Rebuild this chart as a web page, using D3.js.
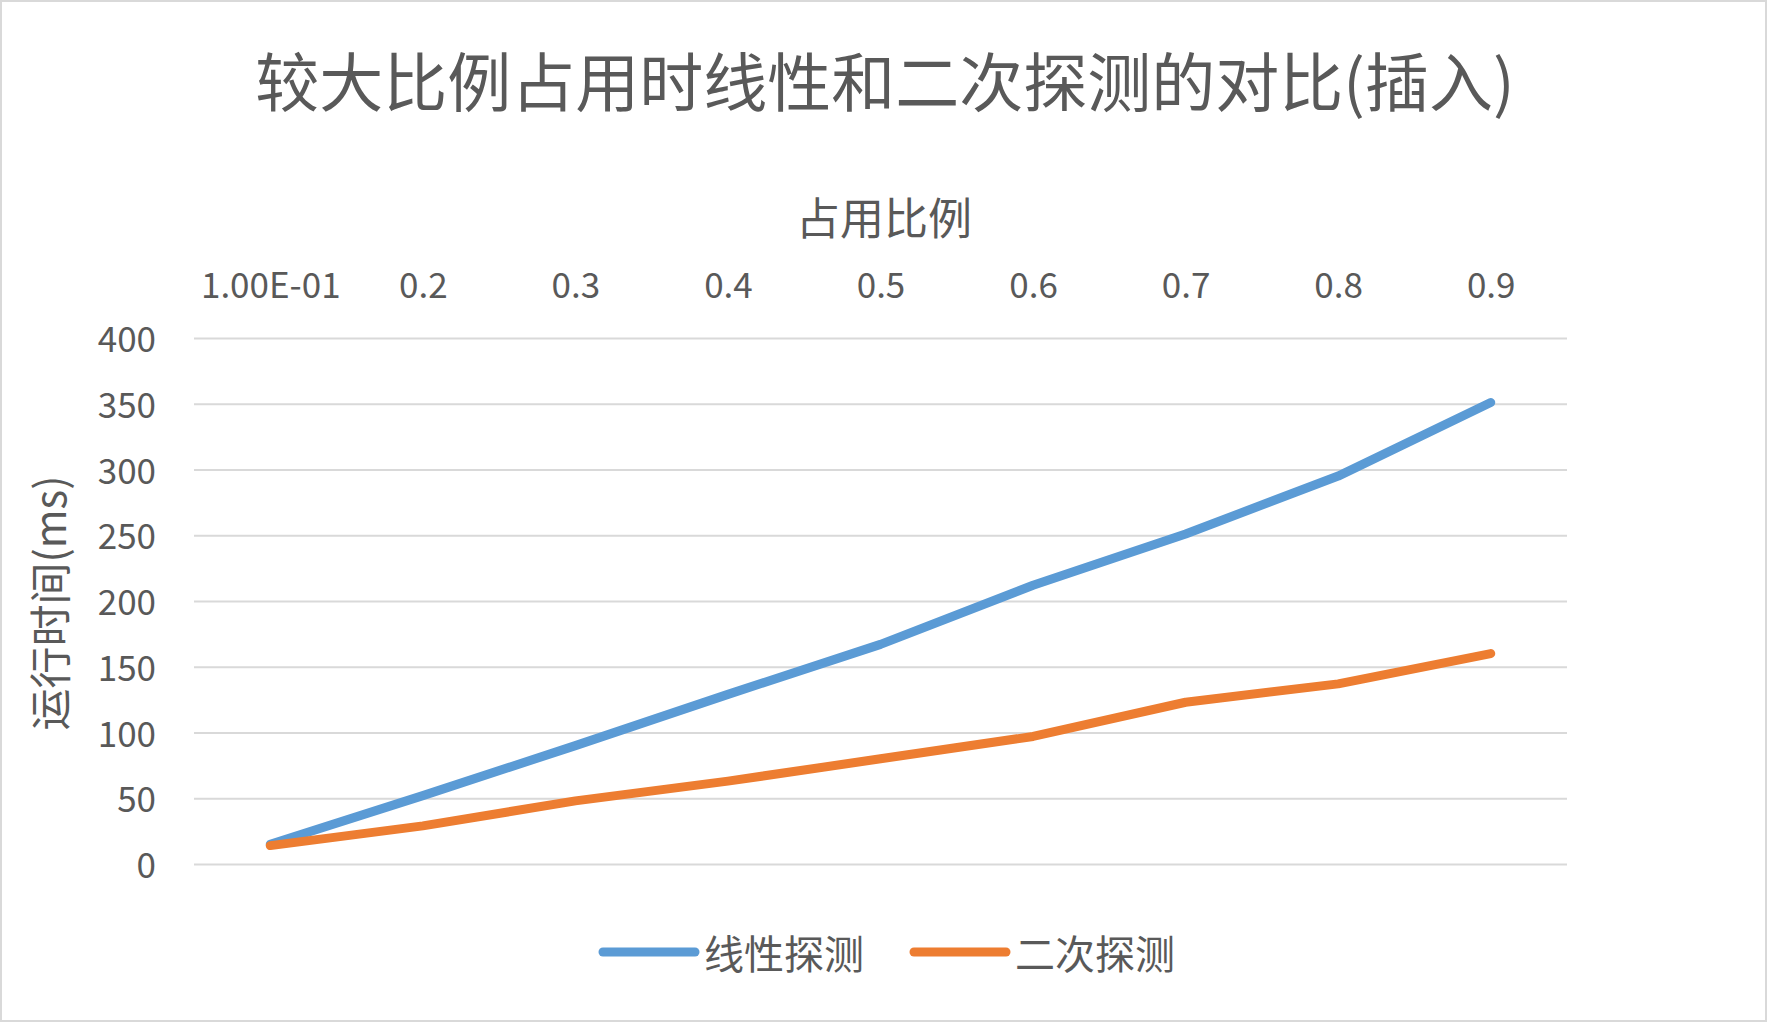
<!DOCTYPE html>
<html>
<head>
<meta charset="utf-8">
<script src="https://cdn.jsdelivr.net/npm/d3@7"></script>
<style>
  body { margin: 0; background: #fff; }
  text { font-family: "Noto Sans CJK SC", "Noto Sans", sans-serif; fill: #595959; }
</style>
</head>
<body>
<script>
const width = 1767,
      height = 1022;

// data
const ratios = ["1.00E-01", "0.2", "0.3", "0.4", "0.5", "0.6", "0.7", "0.8", "0.9"];
const linear = [15, 52, 90, 129, 167, 212, 251, 295, 351];
const quadratic = [14, 29, 48, 63, 80, 97, 123, 137, 160];
const yTicks = [0, 50, 100, 150, 200, 250, 300, 350, 400];
const seriesNames = ["线性探测", "二次探测"];
const colors = ["#5b9bd5", "#ed7d31"];

const margin = {left: 194, right: 200, top: 338, bottom: 158};

var svg = d3.select("body").append("svg")
	.attr("width", width)
	.attr("height", height)

svg.append("rect")
	.attr("x", 1).attr("y", 1)
	.attr("width", width - 2).attr("height", height - 2)
	.attr("fill", "#fff")
	.attr("stroke", "#d9d9d9")
	.attr("stroke-width", 2)

var x = d3.scalePoint()
	.domain(ratios)
	.range([margin.left, width - margin.right])
	.padding(0.5)

var y = d3.scaleLinear()
	.domain([0, 400])
	.range([height - margin.bottom, margin.top])

// gridlines + y labels
var yAxis = svg.append("g")
	.attr("transform", "translate(" + margin.left + ",0)")
	.call(d3.axisLeft(y).tickValues(yTicks).tickSize(-(width - margin.left - margin.right)).tickPadding(38))
yAxis.select(".domain").remove()
yAxis.selectAll(".tick line").attr("stroke", "#d9d9d9").attr("stroke-width", 2)
yAxis.selectAll(".tick text")
	.attr("dy", "-2")
	.attr("dominant-baseline", "central")
	.style("font-size", "35px")
	.style("fill", "#595959")

// x labels on top
var xAxis = svg.append("g")
	.attr("transform", "translate(0,282)")
	.call(d3.axisTop(x).tickSize(0).tickPadding(0))
xAxis.select(".domain").remove()
xAxis.selectAll(".tick text")
	.attr("y", 0)
	.attr("dy", null)
	.attr("dominant-baseline", "central")
	.style("font-size", "35px")
	.style("fill", "#595959")

// lines
var line = d3.line()
	.x((d, i) => x(ratios[i]))
	.y(d => y(d))

;[linear, quadratic].forEach((s, i) => {
	svg.append("path")
		.datum(s)
		.attr("d", line)
		.attr("fill", "none")
		.attr("stroke", colors[i])
		.attr("stroke-width", 9)
		.attr("stroke-linecap", "round")
		.attr("stroke-linejoin", "round")
})

// titles
svg.append("text")
	.attr("x", 885).attr("y", 78)
	.attr("text-anchor", "middle")
	.attr("dominant-baseline", "central")
	.style("font-size", "64px")
	.text("较大比例占用时线性和二次探测的对比(插入)")

svg.append("text")
	.attr("x", 884).attr("y", 216)
	.attr("text-anchor", "middle")
	.attr("dominant-baseline", "central")
	.style("font-size", "44px")
	.text("占用比例")

svg.append("text")
	.attr("transform", "translate(47,603) rotate(-90)")
	.attr("text-anchor", "middle")
	.attr("dominant-baseline", "central")
	.style("font-size", "42px")
	.text("运行时间(ms)")

// legend
var legendX = [603, 914];
var legend = svg.selectAll(".legend")
	.data(seriesNames)
	.enter().append("g")
	.attr("class", "legend")
	.attr("transform", (d, i) => "translate(" + legendX[i] + ",952)")

legend.append("line")
	.attr("x1", 0).attr("x2", 92)
	.attr("stroke", (d, i) => colors[i])
	.attr("stroke-width", 9)
	.attr("stroke-linecap", "round")

legend.append("text")
	.attr("x", 101)
	.attr("dominant-baseline", "central")
	.style("font-size", "40px")
	.text(d => d)
</script>
</body>
</html>
